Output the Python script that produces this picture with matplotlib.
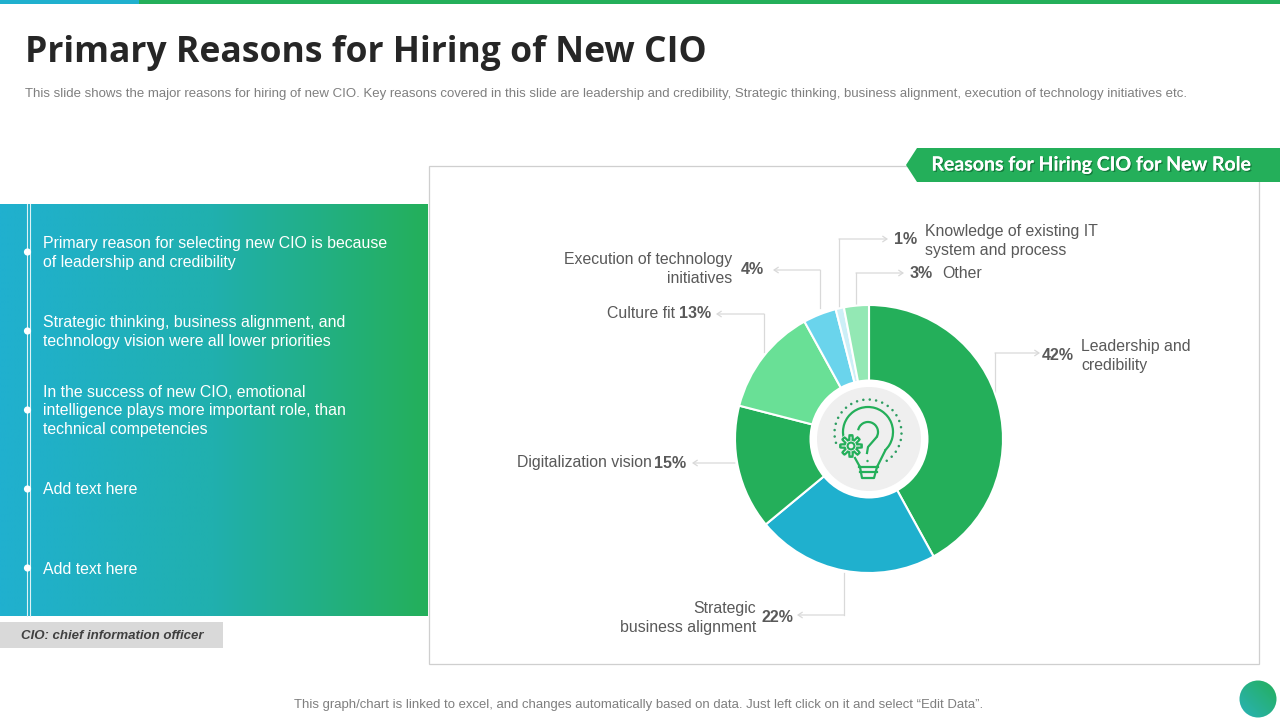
import numpy as np
import matplotlib
matplotlib.use('Agg')
import matplotlib.pyplot as plt
import matplotlib.patheffects as pe
from matplotlib.colors import LinearSegmentedColormap
from matplotlib.patches import Rectangle, Polygon, Circle, Arc

# chart data
kategoriler = ["Leadership and\ncredibility", "Strategic\nbusiness alignment", "Digitalization vision",
               "Culture fit", "Execution of technology\ninitiatives", "Knowledge of existing IT\nsystem and process", "Other"]
degerler = [42, 22, 15, 13, 4, 1, 3]
renkler = ['#24AF5A', '#1FB0CE', '#24AF5A', '#69E096', '#6AD4EC', '#CDEFF7', '#93E8B4']

maddeler = ["Primary reason for selecting new CIO is because\nof leadership and credibility",
            "Strategic thinking, business alignment, and\ntechnology vision were all lower priorities",
            "In the success of new CIO, emotional\nintelligence plays more important role, than\ntechnical competencies",
            "Add text here",
            "Add text here"]
madde_y = [252, 331, 410, 489, 568]

baslik = "Primary Reasons for Hiring of New CIO"
aciklama = ("This slide shows the major reasons for hiring of new CIO. Key reasons covered in this slide are leadership "
            "and credibility, Strategic thinking, business alignment, execution of technology initiatives etc.")
alt_yazi = "This graph/chart is linked to excel, and changes automatically based on data. Just left click on it and select \u201cEdit Data\u201d."

plt.rcParams['font.family'] = ['Liberation Sans', 'DejaVu Sans']
YAZI = '#595959'
CIZGI = '#D9D9D9'
px = 72 / 100  # 1 px in pt

fig = plt.figure(figsize=(12.8, 7.2), dpi=100)
ax = fig.add_axes([0, 0, 1, 1])
ax.set_xlim(0, 1280)
ax.set_ylim(720, 0)
ax.axis('off')

# top bar
ax.add_patch(Rectangle((0, 0), 139, 4, fc='#1FB0CE', ec='none'))
ax.add_patch(Rectangle((139, 0), 1141, 4, fc='#24AF5A', ec='none'))

ax.text(25, 53, baslik, fontsize=35.5 * px, fontweight='bold', family='Open Sans', color='#262626', va='center')
ax.text(25, 94, aciklama, fontsize=13.26 * px, color='#7F7F7F', va='center')

# left panel with gradient
cmap = LinearSegmentedColormap.from_list('g', ['#20B0CF', '#20B0AE', '#24AF5A'])
grad = np.linspace(0, 1, 256).reshape(1, -1)
ax.imshow(grad, extent=(0, 428, 616, 204), cmap=cmap, aspect='auto', zorder=1, interpolation='bilinear')
ax.set_xlim(0, 1280)
ax.set_ylim(720, 0)
ax.plot([26.5, 26.5], [204, 616], color='#DDF3F6', lw=0.8, zorder=2)
ax.plot([29.5, 29.5], [204, 616], color='#DDF3F6', lw=0.8, zorder=2)
for y, metin in zip(madde_y, maddeler):
    ax.add_patch(Circle((27.5, y), 3.6, fc='white', ec='none', zorder=3))
    ax.text(43, y + 1, metin, fontsize=15.95 * px, color='white', va='center', linespacing=1.3, zorder=3)

ax.add_patch(Rectangle((0, 622), 223, 26, fc='#D9D9D9', ec='none'))
ax.text(21, 636, "CIO: chief information officer", fontsize=13.2 * px, fontweight='bold', style='italic',
        color='#404040', va='center')

# chart frame and ribbon
ax.add_patch(Rectangle((429, 166), 830, 498, fc='white', ec='#CFCFCF', lw=0.9))
ax.add_patch(Polygon([(917, 148), (1280, 148), (1280, 182), (917, 182), (906, 165)], fc='#24AF5A', ec='none'))
ax.text(1091.5, 165, "Reasons for Hiring CIO for New Role", fontsize=19.5 * px, fontweight='bold', family='Lato',
        color='white', ha='center', va='center',
        path_effects=[pe.withSimplePatchShadow(offset=(1, -1), shadow_rgbFace='#0B5A2A', alpha=0.6), pe.Normal()])

ax.text(639, 705, alt_yazi, fontsize=13.15 * px, color='#7F7F7F', ha='center', va='center')

# corner dot, diagonal gradient
daire = Circle((1258, 699), 18.5, fc='none', ec='none')
ax.add_patch(daire)
gx, gy = np.meshgrid(np.linspace(0, 1, 64), np.linspace(0, 1, 64))
im = ax.imshow((gx + (1 - gy)) / 2, extent=(1239, 1277, 718, 680), aspect='auto', interpolation='bilinear',
               cmap=LinearSegmentedColormap.from_list('k', ['#2AB2B8', '#24AF5A']), origin='upper')
im.set_clip_path(daire)
ax.set_xlim(0, 1280)
ax.set_ylim(720, 0)

# leader lines, label positions
cizgiler = [[(995, 392), (995, 353), (1040, 353)],
            [(844, 573), (844, 615), (797, 615)],
            [(735, 463), (692, 463)],
            [(764, 352), (764, 314), (716, 314)],
            [(820, 308), (820, 270), (773, 270)],
            [(839, 310), (839, 239), (888, 239)],
            [(856, 307), (856, 273), (904, 273)]]
yuzde_yer = [(1042, 355), (761, 617), (654, 463), (679, 314),
             (741, 270), (894, 240), (910, 273)]
etiket_yer = [(1081, 356, 'left'), (756, 618, 'right'), (652, 463, 'right'), (675, 314, 'right'),
              (732, 269, 'right'), (925, 241, 'left'), (942, 273, 'left')]
for yol in cizgiler:
    xs, ys = zip(*yol)
    ax.plot(xs[:-1], ys[:-1], color=CIZGI, lw=0.9, zorder=2)
    ax.annotate('', xy=yol[-1], xytext=yol[-2],
                arrowprops=dict(arrowstyle='->,head_length=0.3,head_width=0.2', color=CIZGI, lw=0.9,
                                shrinkA=0, shrinkB=0), zorder=2)
for ad, deger, (xp, yp), (xe, ye, he) in zip(kategoriler, degerler, yuzde_yer, etiket_yer):
    ax.text(xp, yp, f"{deger}%", fontsize=16 * px, fontweight='bold', color=YAZI, ha='left', va='center')
    ax.text(xe, ye, ad, fontsize=15.85 * px, color=YAZI, ha=he, va='center', linespacing=1.3)

# donut
R = 134
cx, cy = 869, 439
ax_pie = fig.add_axes([(cx - R) / 1280, 1 - (cy + R) / 720, 2 * R / 1280, 2 * R / 720])
ax_pie.pie(degerler, colors=renkler, startangle=90, counterclock=False, radius=1,
           wedgeprops=dict(edgecolor='white', linewidth=1.5))
ax_pie.set_xlim(-1, 1)
ax_pie.set_ylim(-1, 1)
ax_pie.set_position([(cx - R) / 1280, 1 - (cy + R) / 720, 2 * R / 1280, 2 * R / 720])

# center icon, pixel coordinates on a top layer
ax_ikon = fig.add_axes([0, 0, 1, 1])
ax_ikon.set_xlim(0, 1280)
ax_ikon.set_ylim(720, 0)
ax_ikon.axis('off')
ax_ikon.patch.set_alpha(0)
ax_ikon.add_patch(Circle((cx, cy), 59.5, fc='white', ec='none'))
ax_ikon.add_patch(Circle((cx, cy), 52, fc='#EFEFEF', ec='none'))
IKON = '#24AF5A'
LW = 1.6
# bulb
ax_ikon.add_patch(Arc((868, 432), 50, 50, theta1=130, theta2=48, color=IKON, lw=LW))
ax_ikon.plot([855, 860], [458, 467], color=IKON, lw=LW)
ax_ikon.plot([885, 877], [451, 467], color=IKON, lw=LW)
ax_ikon.plot([859, 878], [467, 467], color=IKON, lw=LW)
ax_ikon.plot([860, 877], [472, 472], color=IKON, lw=LW)
ax_ikon.plot([860, 862, 874, 877], [467, 478, 478, 467], color=IKON, lw=LW)
# question mark
ax_ikon.add_patch(Arc((868, 432), 20, 20, theta1=190, theta2=30, color=IKON, lw=LW))
ax_ikon.plot([876.7, 868, 867], [437, 447, 453], color=IKON, lw=LW)
ax_ikon.add_patch(Circle((867.5, 461), 1.2, fc=IKON, ec='none'))
# dotted ring
for a in np.arange(-56, 200, 11):
    ax_ikon.add_patch(Circle((868 + 33.5 * np.cos(np.radians(a)), 433 - 33.5 * np.sin(np.radians(a))), 1.25,
                             fc='#2E9E62', ec='none'))
# gear
aci = np.linspace(0, 2 * np.pi, 240)
yaricap = 8.6 + 2.2 * np.clip(2.2 * np.cos(8 * aci), -1, 1)
ax_ikon.add_patch(Circle((851, 446), 12.5, fc='#EFEFEF', ec='none'))
ax_ikon.fill(851 + yaricap * np.cos(aci), 446 + yaricap * np.sin(aci), fc='#EFEFEF', ec=IKON, lw=LW)
ax_ikon.add_patch(Circle((851, 446), 3.4, fc='none', ec=IKON, lw=1.5))
ax_ikon.set_xlim(0, 1280)
ax_ikon.set_ylim(720, 0)

fig.savefig('out.png', dpi=100)
plt.close(fig)
